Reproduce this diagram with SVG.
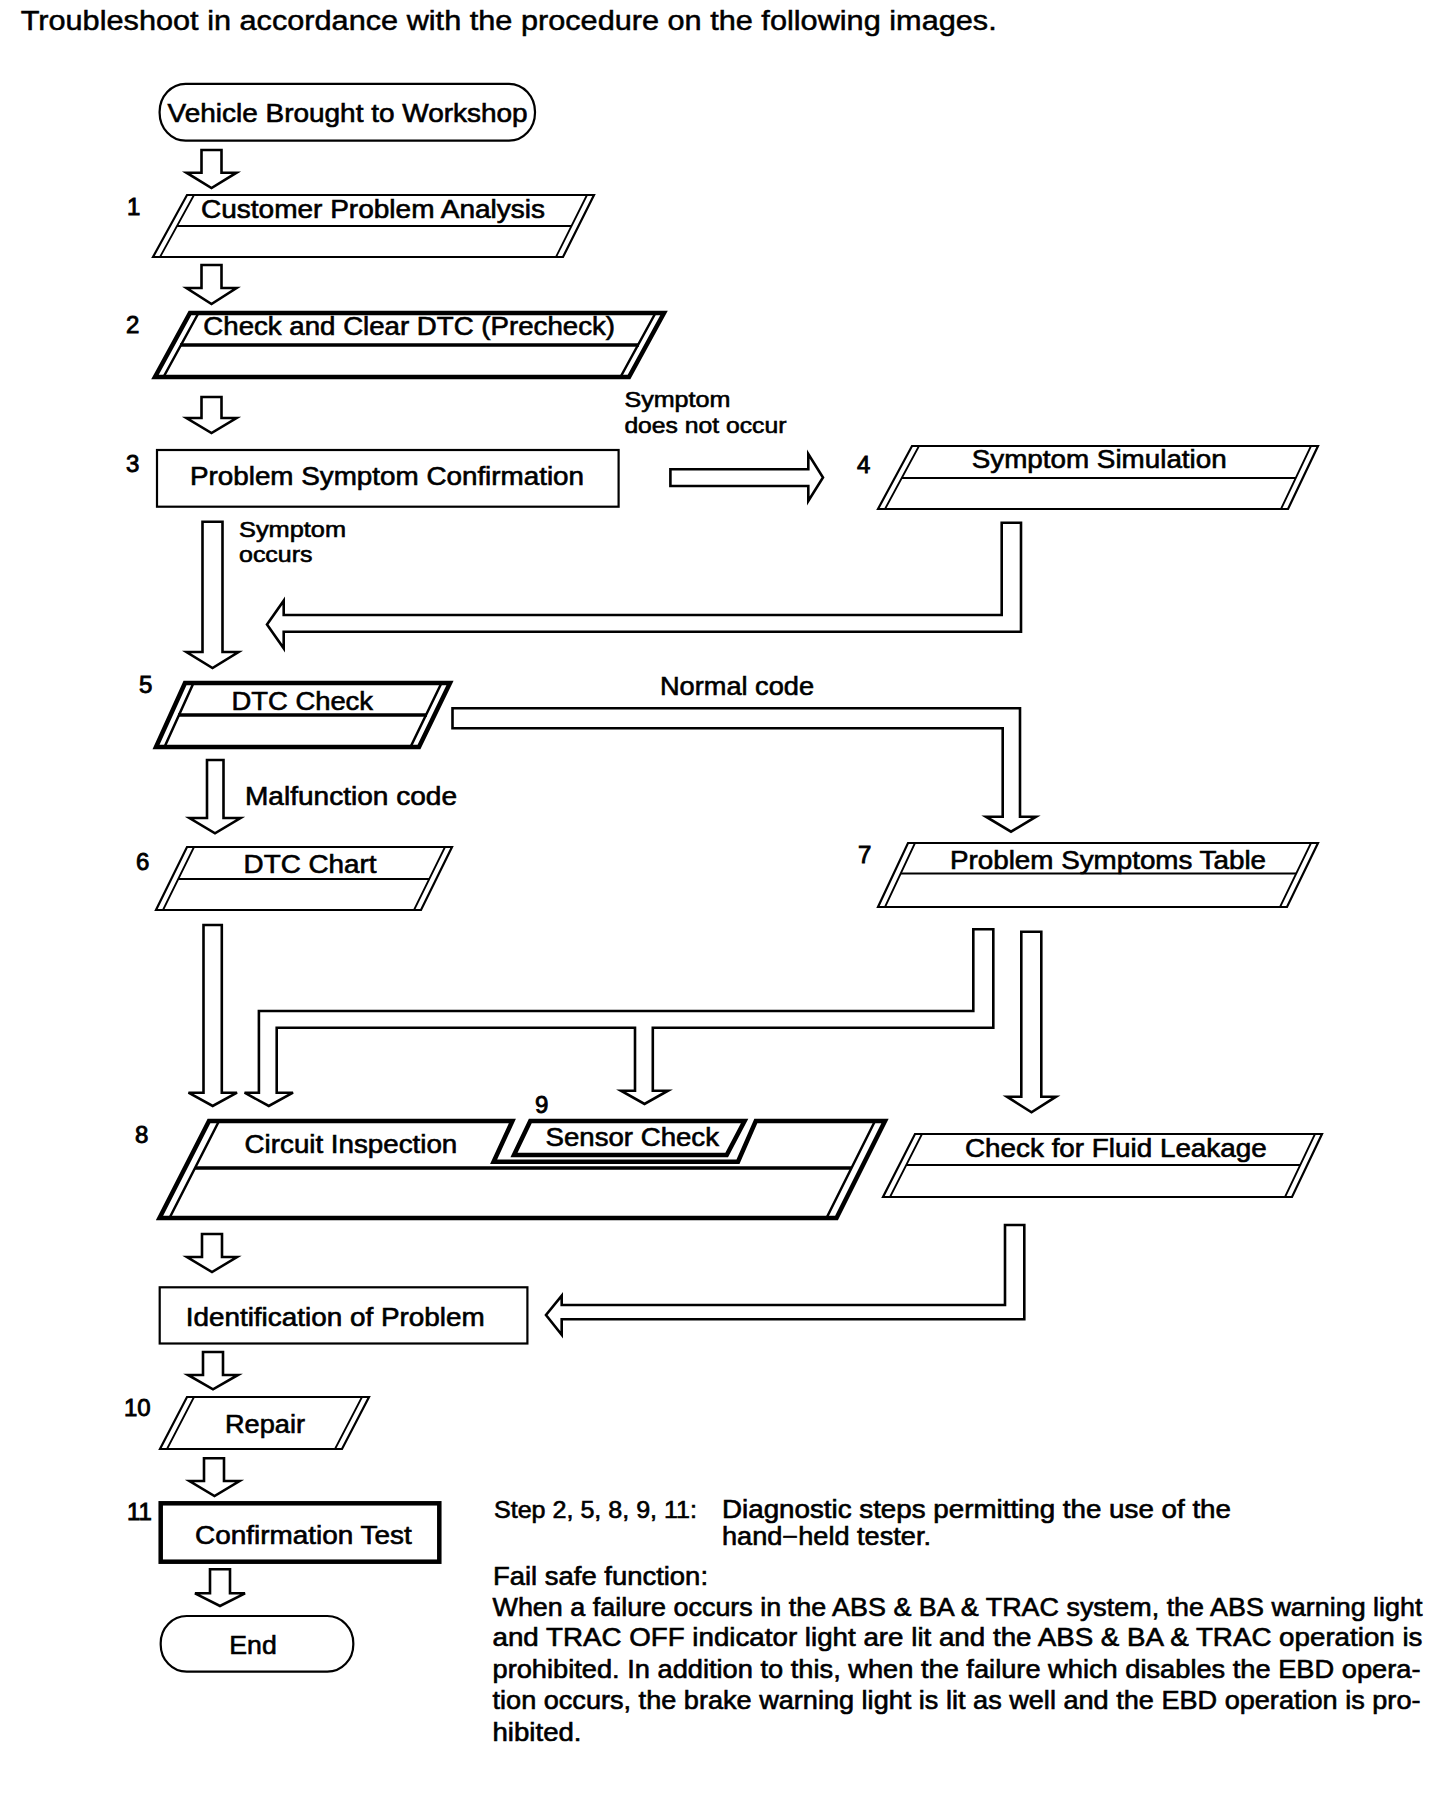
<svg xmlns="http://www.w3.org/2000/svg" width="1456" height="1800" viewBox="0 0 1456 1800">
<style>
text{font-family:"Liberation Sans",Arial,Helvetica,sans-serif;font-size:25px;fill:#000;stroke:#000;stroke-width:0.6}
.sm{font-size:22px}
.num{font-size:24px;stroke-width:0.9}
.nt{font-size:25px}
.st{font-size:23px}
.tt{font-size:27px;stroke-width:0.5}
.box{fill:#fff;stroke:#000;stroke-width:2.2}
.thk{fill:#fff;stroke:#000;stroke-width:4.5;stroke-linejoin:miter}
.ln{fill:none;stroke:#000;stroke-width:1.8}
.lnk{fill:none;stroke:#000;stroke-width:2.5}
.dv{fill:none;stroke:#000;stroke-width:2.2}
.dvk{fill:none;stroke:#000;stroke-width:3.5}
.ar{fill:#fff;stroke:#000;stroke-width:2.6;stroke-linejoin:miter}
</style>
<rect width="1456" height="1800" fill="#fff"/>
<text class="tt" x="20.7" y="29.5" textLength="976" lengthAdjust="spacingAndGlyphs">Troubleshoot in accordance with the procedure on the following images.</text>

<g id="connectors">
<path class="ar" d="M201.5,150 H221.5 V172.7 H236.5 L211.5,188 L186.5,172.7 H201.5 Z"/>
<path class="ar" d="M201.5,265 H221.5 V288 H236.5 L211.5,304 L186.5,288 H201.5 Z"/>
<path class="ar" d="M201.5,397 H221.5 V418 H236.5 L211.5,433 L186.5,418 H201.5 Z"/>
<path class="ar" d="M670.4,469.3 H808.3 V454 L823,477.5 L808.3,501 V486 H670.4 Z"/>
<path class="ar" d="M202.5,521.7 H222.5 V652 H238.5 L212.5,668 L186.5,652 H202.5 Z"/>
<path class="ar" d="M1001.7,522.7 H1021 V631.7 H283.7 V648.3 L267,624.5 L283.7,600.7 V615 H1001.7 Z"/>
<path class="ar" d="M452.5,708.3 H1020 V816.7 H1036 L1011,831.7 L986,816.7 H1002.7 V728.3 H452.5 Z"/>
<path class="ar" d="M207,760 H223.5 V818 H240.5 L215,833.3 L189.5,818 H207 Z"/>
<path class="ar" d="M203.5,925 H221.8 V1092.7 H237 L212.7,1106 L188.5,1092.7 H203.5 Z"/>
<path class="ar" d="M973.3,929.3 H993.3 V1027.7 H652.8 V1090.7 H668 L644.5,1104 L621,1090.7 H635 V1027.7 H276.7 V1092.7 H293 L268.8,1106 L244.6,1092.7 H258.9 V1011 H973.3 Z"/>
<path class="ar" d="M1021.3,931.7 H1041.3 V1096.7 H1056 L1031.5,1112.3 L1007,1096.7 H1021.3 Z"/>
<path class="ar" d="M1005,1225 H1024.3 V1319.3 H561.7 V1334.7 L546,1315 L561.7,1295.7 V1305 H1005 Z"/>
<path class="ar" d="M202,1234 H222 V1257 H237 L212,1272 L187,1257 H202 Z"/>
<path class="ar" d="M203,1352 H223 V1375 H238 L213,1389.3 L188,1375 H203 Z"/>
<path class="ar" d="M204,1458.3 H224 V1481 H239.5 L214.5,1496 L189.5,1481 H204 Z"/>
<path class="ar" d="M210,1569.3 H230 V1593.3 H245 L220,1606 L195,1593.3 H210 Z"/>
</g>

<g id="n-start">
<rect class="box" x="159.6" y="83.8" width="375.4" height="56.9" rx="26" ry="28"/>
<text x="167.6" y="121.7" textLength="360" lengthAdjust="spacingAndGlyphs">Vehicle Brought to Workshop</text>
</g>

<g id="n1">
<text class="num" x="127" y="215">1</text>
<polygon class="box" points="187,195 594,195 563,257 153,257"/>
<path class="ln" d="M194,195 L160,257 M587,195 L556,257"/>
<path class="dv" d="M177,226 H572"/>
<text x="201" y="217.7" textLength="344" lengthAdjust="spacingAndGlyphs">Customer Problem Analysis</text>
</g>

<g id="n2">
<text class="num" x="126" y="333">2</text>
<polygon class="thk" points="190,313 664,313 629,377 155,377"/>
<path class="lnk" d="M198.5,313 L163.5,377 M655.5,313 L620.5,377"/>
<path class="dvk" d="M180,345 H639"/>
<text x="203.3" y="335" textLength="411.7" lengthAdjust="spacingAndGlyphs">Check and Clear DTC (Precheck)</text>
</g>

<g id="n3">
<text class="num" x="126" y="472">3</text>
<rect class="box" x="157" y="450" width="461.6" height="56.7"/>
<text x="190" y="485" textLength="394" lengthAdjust="spacingAndGlyphs">Problem Symptom Confirmation</text>
</g>

<g id="lbl-notoccur">
<text class="sm" x="624.4" y="406.7" textLength="106" lengthAdjust="spacingAndGlyphs">Symptom</text>
<text class="sm" x="624.4" y="433.3" textLength="162" lengthAdjust="spacingAndGlyphs">does not occur</text>
</g>

<g id="n4">
<text class="num" x="857" y="473">4</text>
<polygon class="box" points="912,446 1318,446 1288,509 878,509"/>
<path class="ln" d="M919,446 L885,509 M1311,446 L1281,509"/>
<path class="dv" d="M902,478 H1296"/>
<text x="971.7" y="468.3" textLength="255" lengthAdjust="spacingAndGlyphs">Symptom Simulation</text>
</g>

<g id="lbl-occurs">
<text class="sm" x="239" y="536.7" textLength="107" lengthAdjust="spacingAndGlyphs">Symptom</text>
<text class="sm" x="239" y="561.7" textLength="73.5" lengthAdjust="spacingAndGlyphs">occurs</text>
</g>

<g id="n5">
<text class="num" x="139" y="693">5</text>
<polygon class="thk" points="185,683 450,683 419,747 156,747"/>
<path class="lnk" d="M193.5,683 L164.5,747 M441.5,683 L410.5,747"/>
<path class="dvk" d="M178,715 H427"/>
<text x="231.5" y="710" textLength="141.5" lengthAdjust="spacingAndGlyphs">DTC Check</text>
</g>

<g id="lbl-normal">
<text x="660" y="695" textLength="154" lengthAdjust="spacingAndGlyphs">Normal code</text>
</g>
<g id="lbl-malf">
<text x="245" y="805" textLength="212" lengthAdjust="spacingAndGlyphs">Malfunction code</text>
</g>

<g id="n6">
<text class="num" x="136" y="870">6</text>
<polygon class="box" points="187,847 452,847 421,910 156,910"/>
<path class="ln" d="M194,847 L163,910 M445,847 L414,910"/>
<path class="dv" d="M178,879 H430"/>
<text x="243.6" y="873.3" textLength="133" lengthAdjust="spacingAndGlyphs">DTC Chart</text>
</g>

<g id="n7">
<text class="num" x="858" y="863">7</text>
<polygon class="box" points="908,843 1318,843 1287,907 878,907"/>
<path class="ln" d="M915,843 L885,907 M1311,843 L1280,907"/>
<path class="dv" d="M901,873.5 H1296"/>
<text x="950" y="869.3" textLength="316" lengthAdjust="spacingAndGlyphs">Problem Symptoms Table</text>
</g>

<g id="n8">
<text class="num" x="135" y="1143">8</text>
<path class="thk" d="M209,1121 H512.4 L493.6,1161.7 H738 L755.8,1121 H885 L836.5,1218 H159.5 Z"/>
<path class="lnk" d="M219,1121 L169.5,1218 M875,1121 L826.5,1218"/>
<path class="dvk" d="M195,1168 H851.5"/>
<text x="244.6" y="1153.3" textLength="212.7" lengthAdjust="spacingAndGlyphs">Circuit Inspection</text>
</g>

<g id="n9">
<text class="num" x="535" y="1113">9</text>
<polygon class="thk" points="530.3,1121 744.6,1121 726.7,1155 514,1155"/>
<text x="545.6" y="1146" textLength="173.4" lengthAdjust="spacingAndGlyphs">Sensor Check</text>
</g>

<g id="n-fluid">
<polygon class="box" points="915,1134 1322,1134 1292,1197 883,1197"/>
<path class="ln" d="M922,1134 L890,1197 M1315,1134 L1285,1197"/>
<path class="dv" d="M906,1165 H1300"/>
<text x="965" y="1157.3" textLength="301.7" lengthAdjust="spacingAndGlyphs">Check for Fluid Leakage</text>
</g>

<g id="n-ident">
<rect class="box" x="159.7" y="1287.3" width="367.7" height="56.2"/>
<text x="185.7" y="1326.3" textLength="299" lengthAdjust="spacingAndGlyphs">Identification of Problem</text>
</g>

<g id="n10">
<text class="num" x="124" y="1416">10</text>
<polygon class="box" points="187,1397 369,1397 342,1449 160,1449"/>
<path class="ln" d="M194,1397 L167,1449 M362,1397 L335,1449"/>
<text x="225" y="1433.3" textLength="80" lengthAdjust="spacingAndGlyphs">Repair</text>
</g>

<g id="n11">
<text class="num" x="127" y="1520">11</text>
<rect class="thk" x="160.7" y="1503.3" width="278.6" height="58.4"/>
<text x="195" y="1544.3" textLength="216.7" lengthAdjust="spacingAndGlyphs">Confirmation Test</text>
</g>

<g id="n-end">
<rect class="box" x="160.7" y="1616" width="192.6" height="55.7" rx="26" ry="27"/>
<text x="229.3" y="1654" textLength="47.4" lengthAdjust="spacingAndGlyphs">End</text>
</g>

<g id="notes">
<text class="st" x="494" y="1518" textLength="203" lengthAdjust="spacingAndGlyphs">Step 2, 5, 8, 9, 11:</text>
<text class="nt" x="722" y="1518" textLength="509" lengthAdjust="spacingAndGlyphs">Diagnostic steps permitting the use of the</text>
<text class="nt" x="722" y="1545" textLength="209" lengthAdjust="spacingAndGlyphs">hand−held tester.</text>
<text class="nt" x="493" y="1585" textLength="215" lengthAdjust="spacingAndGlyphs">Fail safe function:</text>
<text class="nt" x="492.5" y="1615.5" textLength="930" lengthAdjust="spacingAndGlyphs">When a failure occurs in the ABS &amp; BA &amp; TRAC system, the ABS warning light</text>
<text class="nt" x="492.5" y="1646" textLength="930" lengthAdjust="spacingAndGlyphs">and TRAC OFF indicator light are lit and the ABS &amp; BA &amp; TRAC operation is</text>
<text class="nt" x="492.5" y="1677.5" textLength="928" lengthAdjust="spacingAndGlyphs">prohibited. In addition to this, when the failure which disables the EBD opera-</text>
<text class="nt" x="492.5" y="1709" textLength="928" lengthAdjust="spacingAndGlyphs">tion occurs, the brake warning light is lit as well and the EBD operation is pro-</text>
<text class="nt" x="492.5" y="1740.5" textLength="89" lengthAdjust="spacingAndGlyphs">hibited.</text>
</g>
</svg>
